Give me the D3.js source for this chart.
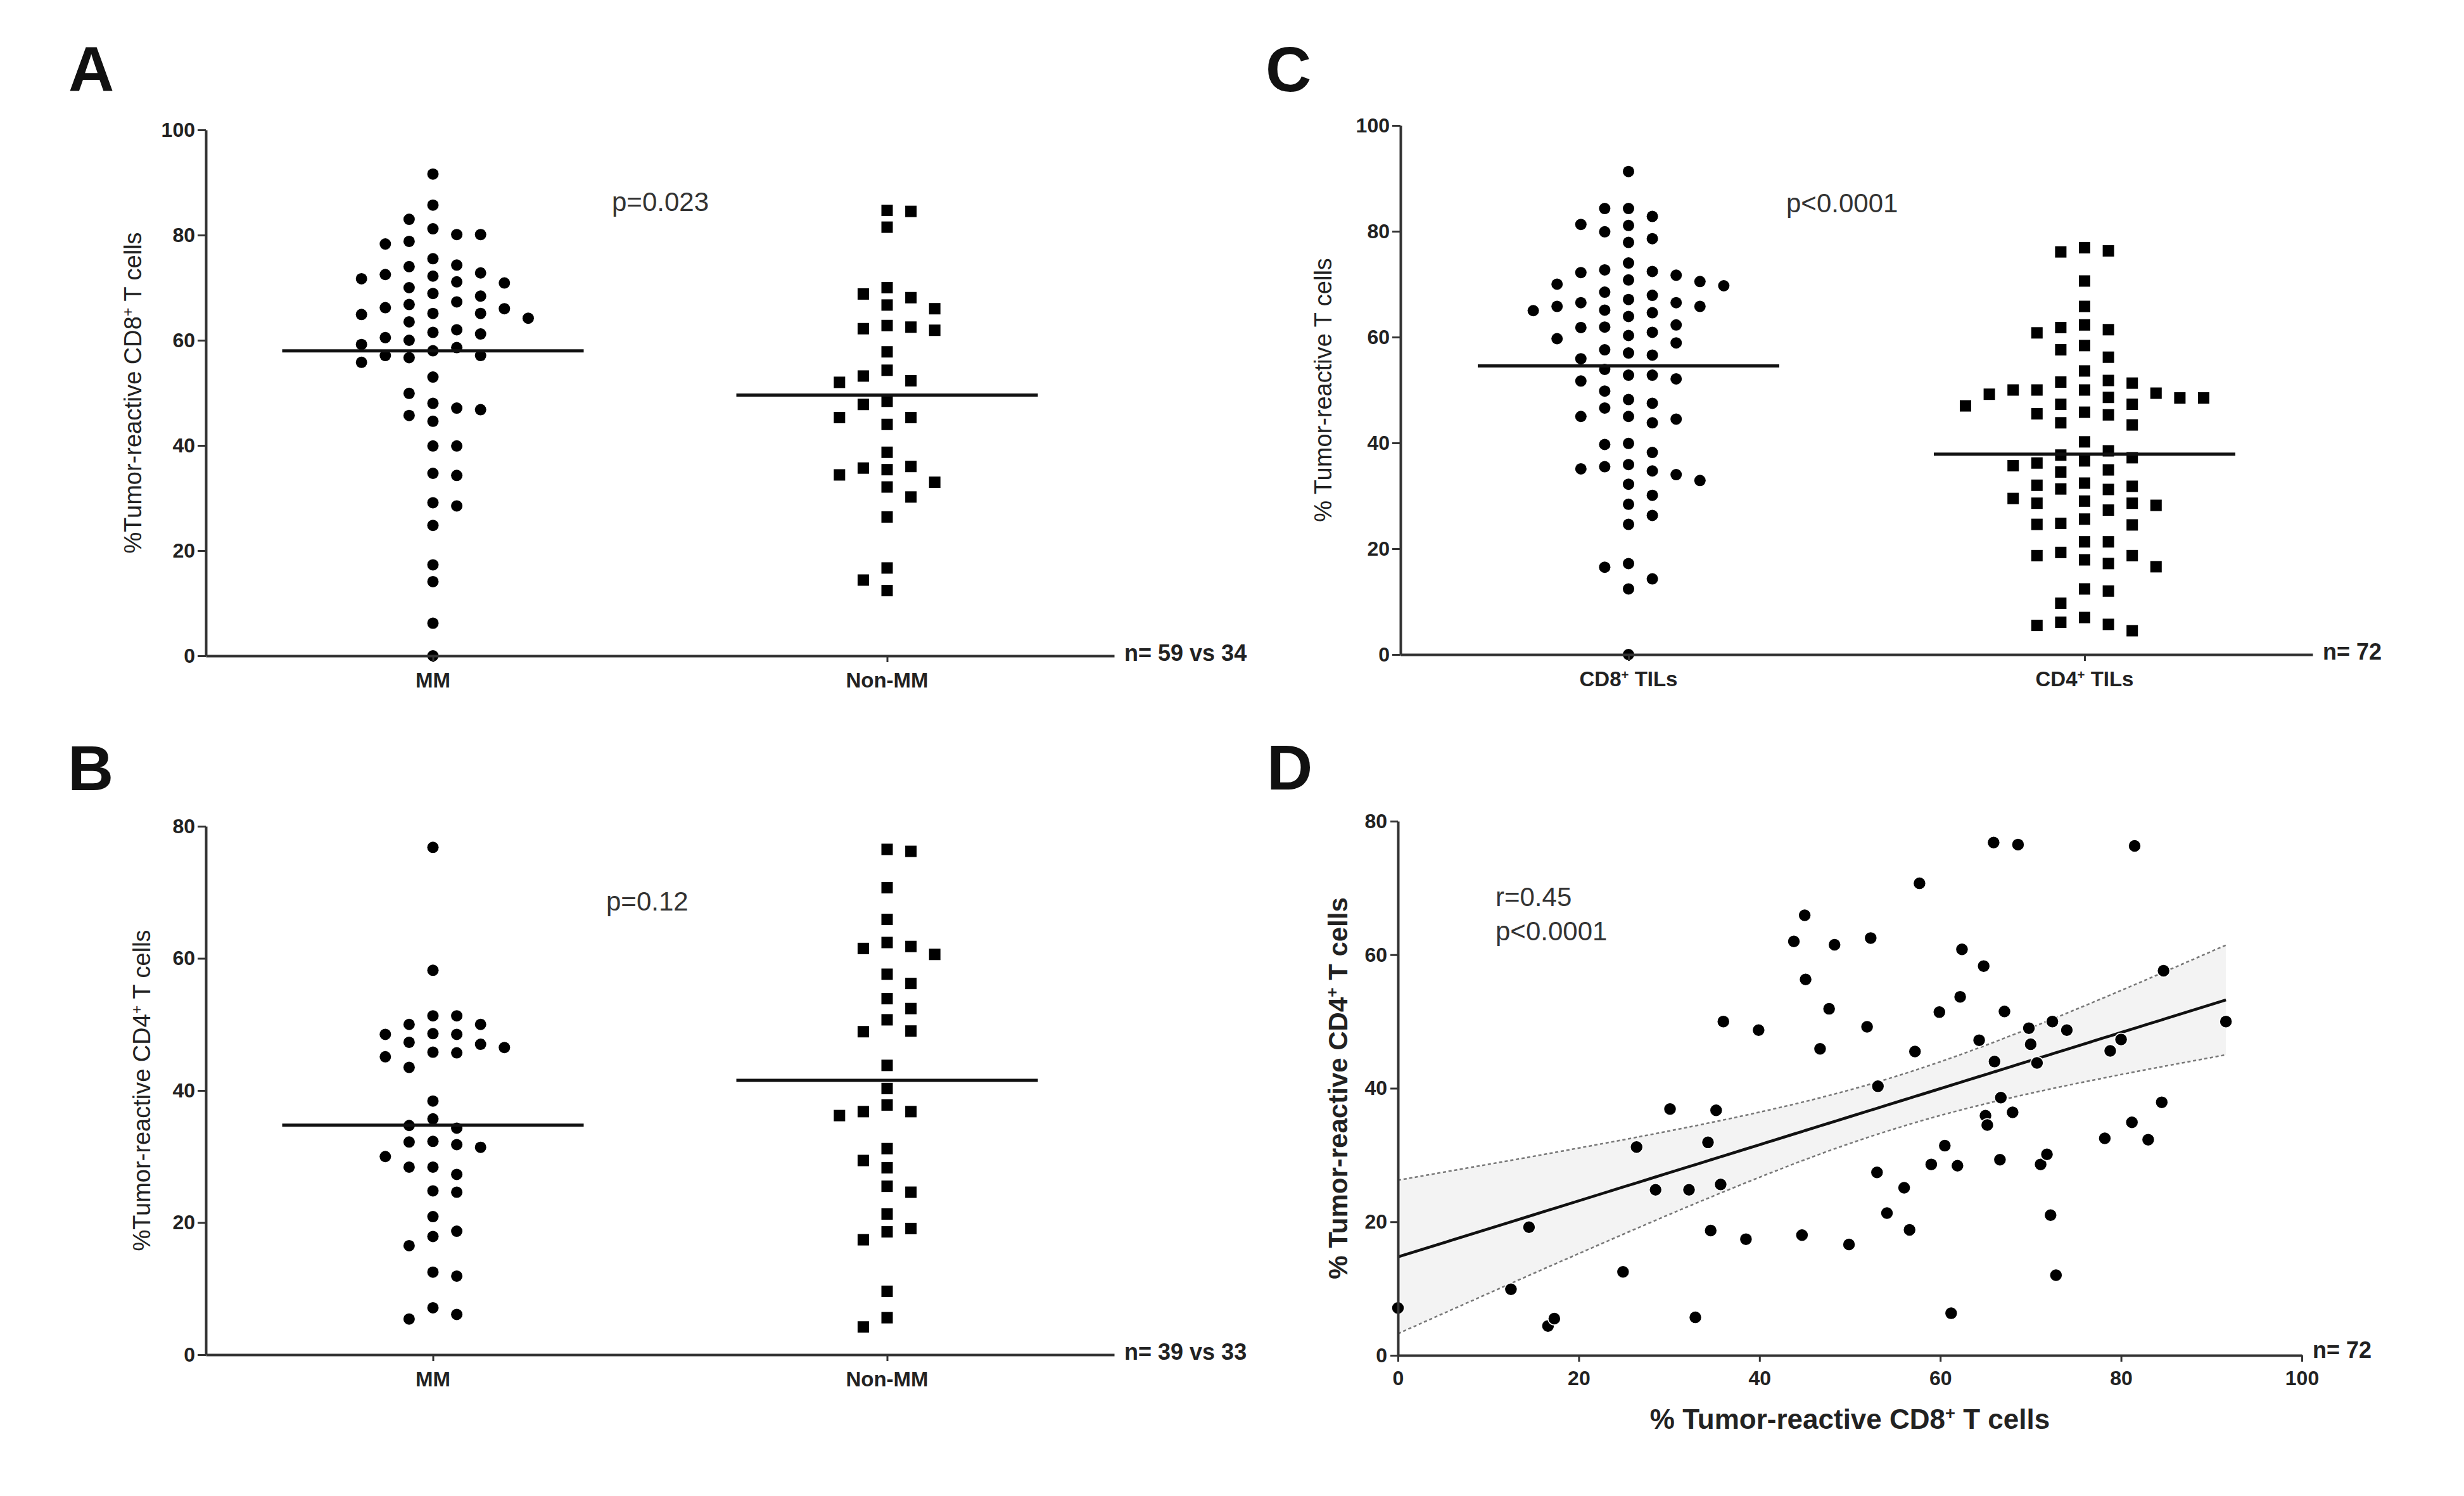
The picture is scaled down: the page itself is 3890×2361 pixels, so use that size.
<!DOCTYPE html>
<html>
<head>
<meta charset="utf-8">
<script src="https://cdn.jsdelivr.net/npm/d3@7"></script>
<style>
  body { margin: 0; background: #fff; }
  text { font-family: "Liberation Sans", Arial, sans-serif; }
</style>
</head>
<body>
<div id="chart"></div>
<script>
// values (% tumor-reactive cells)
const cd8MM = [91.6, 85.7, 83.0, 81.2, 80.1, 80.1, 78.3, 78.8, 75.5, 74.3,
  74.0, 72.8, 72.5, 72.2, 71.7, 71.1, 70.9, 70.0, 68.9, 68.4,
  67.3, 66.8, 66.2, 66.0, 65.1, 64.9, 65.1, 64.2, 63.5, 62.0,
  61.5, 61.2, 60.5, 60.0, 59.2, 58.6, 56.7, 57.1, 58.0, 57.1,
  55.8, 53.0, 49.9, 47.1, 48.0, 46.8, 44.6, 45.7, 39.9, 39.9,
  34.3, 34.7, 28.5, 29.1, 24.8, 17.3, 14.1, 6.2, 0];
const cd8NonMM = [84.5, 84.7, 81.5, 70.0, 68.8, 68.1, 66.7, 66.0, 61.9, 62.8,
  62.2, 62.5, 57.8, 54.3, 52.0, 52.3, 53.2, 47.8, 48.4, 44.0,
  45.3, 45.3, 38.7, 35.4, 36.0, 35.7, 33.0, 34.4, 32.1, 30.2,
  26.4, 16.7, 14.4, 12.4];

const cd4MM = [76.8, 58.2, 51.3, 51.3, 50.0, 50.0, 48.5, 48.6, 48.5, 47.0,
  46.5, 47.3, 45.7, 45.1, 45.8, 43.5, 38.4, 35.7, 34.3, 34.7,
  31.8, 32.2, 32.3, 31.4, 30.0, 27.3, 28.4, 28.4, 24.6, 24.8,
  20.9, 18.7, 17.9, 16.5, 11.9, 12.5, 7.1, 5.4, 6.1];
const cd4NonMM = [76.2, 76.5, 70.7, 65.9, 62.4, 61.5, 61.8, 60.6, 57.6, 56.2,
  53.9, 52.4, 50.7, 48.9, 49.0, 43.8, 40.3, 37.8, 36.2, 36.8,
  36.8, 31.2, 29.4, 28.3, 25.5, 24.6, 21.3, 19.1, 18.6, 17.4,
  9.6, 5.6, 4.2];

const cd8TILs = [91.3, 84.3, 84.3, 82.8, 81.3, 81.1, 79.9, 78.6, 77.9, 74.0,
  71.7, 72.4, 72.2, 72.7, 70.8, 70.5, 70.0, 69.7, 68.5, 67.9,
  67.1, 66.5, 66.5, 65.8, 65.8, 65.0, 65.1, 64.6, 63.9, 62.3,
  61.8, 61.9, 60.9, 60.3, 59.7, 58.9, 57.6, 57.0, 56.6, 55.9,
  53.9, 52.8, 52.8, 51.7, 52.1, 49.8, 47.5, 48.2, 46.6, 45.0,
  44.5, 45.0, 43.8, 39.9, 39.7, 38.2, 35.5, 35.9, 34.7, 35.1,
  34.0, 32.2, 32.9, 30.1, 28.4, 26.3, 24.6, 17.2, 16.5, 14.3,
  12.4, 0];
const cd4TILs = [76.1, 76.9, 76.3, 70.6, 65.8, 60.8, 62.3, 61.4, 61.8, 58.4,
  57.6, 56.2, 53.6, 51.5, 51.8, 51.3, 49.4, 50.0, 49.2, 50.0,
  50.0, 48.5, 48.5, 48.6, 47.3, 47.3, 47.0, 45.8, 45.3, 45.5,
  43.4, 43.8, 40.2, 38.5, 37.7, 36.6, 37.2, 36.2, 35.7, 34.9,
  34.5, 32.4, 32.0, 31.8, 31.3, 31.2, 29.5, 29.0, 28.6, 28.2,
  28.6, 27.3, 25.6, 24.8, 24.6, 24.5, 21.3, 21.3, 18.7, 18.7,
  17.9, 19.3, 17.2, 16.6, 12.0, 12.4, 9.7, 7.0, 6.1, 5.5,
  5.7, 4.5];

// panel D: paired values per patient
const dCD8 = [0, 12.5, 14.5, 16.6, 17.3, 24.9, 26.4, 28.5, 30.1, 32.2,
  32.9, 34.3, 34.6, 35.2, 35.7, 36.0, 38.5, 39.9, 43.8, 45.0,
  45.1, 44.7, 47.7, 46.7, 48.3, 49.9, 51.9, 52.3, 53.1, 53.0,
  54.1, 56.0, 56.6, 57.2, 57.7, 59.0, 59.9, 60.5, 61.2, 61.9,
  62.2, 62.4, 64.3, 64.8, 65.0, 65.2, 65.9, 66.0, 66.6, 66.7,
  67.1, 68.0, 68.6, 69.8, 70.0, 70.7, 71.1, 71.8, 72.2, 72.4,
  72.8, 74.0, 78.2, 78.8, 80.0, 81.2, 81.5, 83.0, 84.5, 84.7, 91.6];
const dCD4 = [7.1, 9.9, 19.2, 4.4, 5.5, 12.5, 31.2, 24.8, 36.9, 24.8,
  5.7, 31.9, 18.7, 36.7, 25.6, 50.0, 17.4, 48.7, 62.0, 65.9,
  56.3, 18.0, 51.9, 45.9, 61.5, 16.6, 49.2, 62.5, 40.3, 27.4,
  21.3, 25.1, 18.8, 45.5, 70.7, 28.6, 51.4, 31.4, 6.3, 28.4,
  53.7, 60.8, 47.2, 58.3, 35.9, 34.5, 76.8, 44.0, 29.3, 38.6,
  51.5, 36.4, 76.5, 49.0, 46.6, 43.8, 28.6, 30.1, 21.0, 50.0,
  12.0, 48.7, 32.5, 45.6, 47.3, 34.9, 76.3, 32.3, 37.9, 57.6, 50.0];

const groupsAB = ["MM", "Non-MM"];
const groupsC = ["CD8^+ TILs", "CD4^+ TILs"];
const ticks100 = [0, 20, 40, 60, 80, 100];
const ticks80 = [0, 20, 40, 60, 80];

const FONT = '"Liberation Sans", Arial, sans-serif';
const INK = "#222";
const AXIS = "#333";

const svg = d3.select("#chart").append("svg")
  .attr("width", 3890)
  .attr("height", 2361)
  .style("background", "#fff");

// "CD8^+" -> CD8 with a superscript plus
function richText(sel, str) {
  str.split("^+").forEach((part, i) => {
    if (i > 0) sel.append("tspan")
      .attr("baseline-shift", "super")
      .style("font-size", "0.62em")
      .text("+");
    sel.append("tspan").text(part);
  });
  return sel;
}

function styleAxis(g, fontSize) {
  g.attr("font-family", null).attr("font-size", null);
  g.select(".domain").attr("stroke", AXIS).attr("stroke-width", 4);
  g.selectAll(".tick line").attr("stroke", AXIS).attr("stroke-width", 3);
  g.selectAll(".tick text")
    .attr("fill", INK)
    .attr("font-size", fontSize)
    .attr("font-weight", "bold")
    .attr("font-family", FONT);
}

// simple dodge layout: half-step columns, neighbours closer than one
// column need a vertical gap of at least minDy
function swarm(values, y, minDy) {
  const placed = [];
  const ks = new Array(values.length);
  const order = d3.range(values.length).sort((a, b) => values[b] - values[a]);
  order.forEach((i, j) => {
    const py = y(values[i]);
    for (let m = 0; ; m++) {
      const cands = m === 0 ? [0] : (j % 2 ? [m, -m] : [-m, m]);
      const k = cands.find(c => placed.every(p => Math.abs(p.k - c) > 1 || Math.abs(p.py - py) >= minDy));
      if (k !== undefined) {
        ks[i] = k;
        placed.push({k, py});
        break;
      }
    }
  });
  return ks;
}

function panelLetter(letter, x, y) {
  svg.append("text")
    .attr("x", x).attr("y", y)
    .attr("font-size", 100)
    .attr("font-weight", "bold")
    .attr("fill", "#111")
    .text(letter);
}

function drawDotPanel(p) {
  const y = d3.scaleLinear().domain([0, p.yMax]).range([p.yBot, p.yTop]);
  const x = d3.scalePoint().domain(p.groups).range([p.x0, p.x1]).padding(0.5);
  const step = 18.8, r = 9, side = 18, half = 238;
  const g = svg.append("g");

  p.series.forEach((vals, si) => {
    const cx = x(p.groups[si]);
    const ks = swarm(vals, y, 26);
    const pts = vals.map((v, i) => ({v, k: ks[i]}));
    if (p.shapes[si] === "circle") {
      g.append("g").selectAll("circle")
        .data(pts)
        .join("circle")
          .attr("cx", d => cx + d.k * step)
          .attr("cy", d => y(d.v))
          .attr("r", r)
          .attr("fill", "#000");
    } else {
      g.append("g").selectAll("rect")
        .data(pts)
        .join("rect")
          .attr("x", d => cx + d.k * step - side / 2)
          .attr("y", d => y(d.v) - side / 2)
          .attr("width", side)
          .attr("height", side)
          .attr("fill", "#000");
    }
    // mean line
    const m = d3.mean(vals);
    g.append("line")
      .attr("x1", cx - half).attr("x2", cx + half)
      .attr("y1", y(m)).attr("y2", y(m))
      .attr("stroke", "#111")
      .attr("stroke-width", 5);
  });

  svg.append("g")
    .attr("transform", `translate(${p.x0},0)`)
    .call(d3.axisLeft(y).tickValues(p.ticks).tickSize(13).tickPadding(4).tickSizeOuter(0))
    .call(g => styleAxis(g, 32));

  svg.append("g")
    .attr("transform", `translate(0,${p.yBot})`)
    .call(d3.axisBottom(x).tickSize(10).tickSizeOuter(0).tickFormat(""))
    .call(g => styleAxis(g, 32));

  p.groups.forEach(name => {
    richText(svg.append("text")
      .attr("x", x(name)).attr("y", p.yBot + 50)
      .attr("text-anchor", "middle")
      .attr("font-size", 33)
      .attr("font-weight", "bold")
      .attr("fill", INK), name);
  });

  richText(svg.append("text")
    .attr("transform", `translate(${p.yLabelX},${(p.yTop + p.yBot) / 2}) rotate(-90)`)
    .attr("dy", "0.35em")
    .attr("text-anchor", "middle")
    .attr("font-size", 38)
    .attr("fill", INK), p.yLabel);

  svg.append("text")
    .attr("x", p.statX).attr("y", p.statY)
    .attr("font-size", 42)
    .attr("fill", "#333")
    .text(p.stat);

  svg.append("text")
    .attr("x", p.x1 + 16).attr("y", p.yBot + 8)
    .attr("font-size", 36)
    .attr("font-weight", "bold")
    .attr("fill", INK)
    .text(p.nText);

  panelLetter(p.letter, p.letterX, p.letterY);
}

drawDotPanel({
  letter: "A", letterX: 108, letterY: 144,
  x0: 325, x1: 1759, yTop: 205, yBot: 1035, yMax: 100, ticks: ticks100,
  groups: groupsAB, series: [cd8MM, cd8NonMM], shapes: ["circle", "square"],
  yLabel: "%Tumor-reactive CD8^+ T cells", yLabelX: 210,
  stat: "p=0.023", statX: 966, statY: 333, nText: "n= 59 vs 34"
});

drawDotPanel({
  letter: "B", letterX: 107, letterY: 1247,
  x0: 325, x1: 1759, yTop: 1304, yBot: 2138, yMax: 80, ticks: ticks80,
  groups: groupsAB, series: [cd4MM, cd4NonMM], shapes: ["circle", "square"],
  yLabel: "%Tumor-reactive CD4^+ T cells", yLabelX: 224,
  stat: "p=0.12", statX: 957, statY: 1437, nText: "n= 39 vs 33"
});

drawDotPanel({
  letter: "C", letterX: 1998, letterY: 144,
  x0: 2211, x1: 3651, yTop: 198, yBot: 1033, yMax: 100, ticks: ticks100,
  groups: groupsC, series: [cd8TILs, cd4TILs], shapes: ["circle", "square"],
  yLabel: "% Tumor-reactive T cells", yLabelX: 2089,
  stat: "p<0.0001", statX: 2820, statY: 335, nText: "n= 72"
});

// ---- panel D: correlation with regression line and 95% confidence band
(function drawCorrelation() {
  const x0 = 2207, x1 = 3634, yTop = 1296, yBot = 2139;
  const x = d3.scaleLinear().domain([0, 100]).range([x0, x1]);
  const y = d3.scaleLinear().domain([0, 80]).range([yBot, yTop]);

  const n = dCD8.length;
  const xbar = d3.mean(dCD8), ybar = d3.mean(dCD4);
  const sxx = d3.sum(dCD8, v => (v - xbar) ** 2);
  const sxy = d3.sum(dCD8, (v, i) => (v - xbar) * (dCD4[i] - ybar));
  const slope = sxy / sxx;
  const intercept = ybar - slope * xbar;
  const sse = d3.sum(dCD8, (v, i) => (dCD4[i] - (intercept + slope * v)) ** 2);
  const s = Math.sqrt(sse / (n - 2));
  const tCrit = 1.995;

  const band = Array.from(new Set(dCD8)).sort(d3.ascending).map(v => {
    const fit = intercept + slope * v;
    const hw = tCrit * s * Math.sqrt(1 / n + (v - xbar) ** 2 / sxx);
    return {x: v, fit, lo: fit - hw, hi: fit + hw};
  });

  const g = svg.append("g");

  g.append("path")
    .datum(band)
    .attr("fill", "#f3f3f3")
    .attr("d", d3.area().x(d => x(d.x)).y0(d => y(d.lo)).y1(d => y(d.hi)));

  ["lo", "hi"].forEach(key => {
    g.append("path")
      .datum(band)
      .attr("fill", "none")
      .attr("stroke", "#777")
      .attr("stroke-width", 2.5)
      .attr("stroke-dasharray", "5,4")
      .attr("d", d3.line().x(d => x(d.x)).y(d => y(d[key])));
  });

  g.append("path")
    .datum(band)
    .attr("fill", "none")
    .attr("stroke", "#111")
    .attr("stroke-width", 4.5)
    .attr("d", d3.line().x(d => x(d.x)).y(d => y(d.fit)));

  g.append("g").selectAll("circle")
    .data(dCD8.map((v, i) => [v, dCD4[i]]))
    .join("circle")
      .attr("cx", d => x(d[0]))
      .attr("cy", d => y(d[1]))
      .attr("r", 10)
      .attr("fill", "#000")
      .attr("stroke", "#fff")
      .attr("stroke-width", 1.5);

  svg.append("g")
    .attr("transform", `translate(${x0},0)`)
    .call(d3.axisLeft(y).tickValues(ticks80).tickSize(12).tickPadding(5).tickSizeOuter(0))
    .call(g => styleAxis(g, 32));

  svg.append("g")
    .attr("transform", `translate(0,${yBot})`)
    .call(d3.axisBottom(x).tickValues(ticks100).tickSize(10).tickPadding(14).tickSizeOuter(0))
    .call(g => styleAxis(g, 32));

  richText(svg.append("text")
    .attr("transform", `translate(2112,${(yTop + yBot) / 2}) rotate(-90)`)
    .attr("dy", "0.35em")
    .attr("text-anchor", "middle")
    .attr("font-size", 42)
    .attr("font-weight", "bold")
    .attr("fill", INK), "% Tumor-reactive CD4^+ T cells");

  richText(svg.append("text")
    .attr("x", (x0 + x1) / 2).attr("y", 2255)
    .attr("text-anchor", "middle")
    .attr("font-size", 44)
    .attr("font-weight", "bold")
    .attr("fill", INK), "% Tumor-reactive CD8^+ T cells");

  svg.append("text")
    .attr("x", 2361).attr("y", 1430)
    .attr("font-size", 42)
    .attr("fill", "#333")
    .text("r=0.45");
  svg.append("text")
    .attr("x", 2361).attr("y", 1484)
    .attr("font-size", 42)
    .attr("fill", "#333")
    .text("p<0.0001");

  svg.append("text")
    .attr("x", x1 + 17).attr("y", yBot + 4)
    .attr("font-size", 36)
    .attr("font-weight", "bold")
    .attr("fill", INK)
    .text("n= 72");

  panelLetter("D", 2000, 1246);
})();
</script>
</body>
</html>
